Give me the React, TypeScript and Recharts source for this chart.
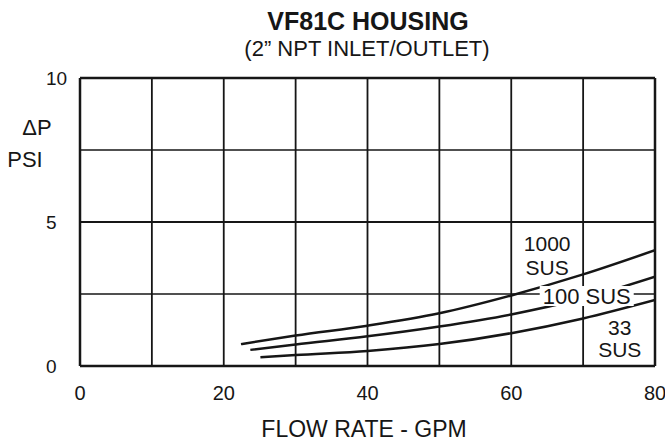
import React from 'react';
import { LineChart, Line, XAxis, YAxis, ReferenceLine, ReferenceDot } from 'recharts';

const gpm1000 = [22.4, 30, 40, 50, 60, 70, 80];
const psi1000 = [0.76, 1.06, 1.4, 1.83, 2.45, 3.18, 4.02];
const gpm100 = [23.7, 30, 40, 50, 60, 70, 80];
const psi100 = [0.56, 0.75, 1.03, 1.37, 1.79, 2.35, 3.1];
const gpm33 = [25.1, 30, 40, 50, 60, 70, 80];
const psi33 = [0.3, 0.38, 0.52, 0.76, 1.14, 1.65, 2.29];

const xTicks = [0, 20, 40, 60, 80];
const yTicks = [0, 5, 10];
const xGrid = [10, 20, 30, 40, 50, 60, 70];
const yGridMinor = [2.5, 7.5];

const title = 'VF81C HOUSING';
const subtitle = '(2\u201D NPT INLET/OUTLET)';
const xTitle = 'FLOW RATE - GPM';
const yTitle = ['\u0394P', 'PSI'];

const toData = (xs: number[], ys: number[]) => xs.map((x, i) => ({ gpm: x, psi: ys[i] }));
const data1000 = toData(gpm1000, psi1000);
const data100 = toData(gpm100, psi100);
const data33 = toData(gpm33, psi33);

const FONT = '"Liberation Sans", Arial, Helvetica, sans-serif';
const INK = '#161616';

const TwoLine = (lines: string[], gap: number) => (props: any) => {
  const { cx, cy } = props;
  return (
    <g>
      {lines.map((t, i) => (
        <text
          key={i}
          x={cx}
          y={cy + (i - (lines.length - 1) / 2) * gap}
          dy="0.36em"
          textAnchor="middle"
          fontSize={21}
          fontFamily={FONT}
          fill={INK}
        >
          {t}
        </text>
      ))}
    </g>
  );
};

const BoxedLabel = (label: string) => (props: any) => {
  const { cx, cy } = props;
  return (
    <g>
      <rect x={cx - 47} y={cy - 10} width={94} height={20} fill="#fff" />
      <text x={cx} y={cy} dy="0.36em" textAnchor="middle" fontSize={22} fontFamily={FONT} fill={INK}>
        {label}
      </text>
    </g>
  );
};

const YTick = (props: any) => {
  const { x, y, payload } = props;
  return (
    <text x={x - 26} y={y} dy="0.36em" textAnchor="start" fontSize={19} fontFamily={FONT} fill={INK}>
      {payload.value}
    </text>
  );
};

export default function App() {
  return (
    <div style={{ position: 'absolute', left: 0, top: 0, background: '#fff' }}>
      <LineChart
        width={665}
        height={443}
        margin={{ top: 78, right: 10, bottom: 0, left: 0 }}
      >
        <XAxis
          dataKey="gpm"
          type="number"
          domain={[0, 80]}
          ticks={xTicks}
          allowDataOverflow
          height={77}
          tickLine={false}
          tickMargin={14}
          axisLine={{ stroke: INK, strokeWidth: 2.5 }}
          tick={{ fontSize: 20, fontFamily: FONT, fill: INK }}
        />
        <YAxis
          dataKey="psi"
          type="number"
          domain={[0, 10]}
          ticks={yTicks}
          allowDataOverflow
          width={80}
          tickLine={false}
          tickMargin={2}
          axisLine={{ stroke: INK, strokeWidth: 2.5 }}
          tick={<YTick />}
        />
        {xGrid.map((v) => (
          <ReferenceLine key={'x' + v} x={v} stroke={INK} strokeWidth={1.8} />
        ))}
        {yGridMinor.map((v) => (
          <ReferenceLine key={'y' + v} y={v} stroke={INK} strokeWidth={1.5} />
        ))}
        <ReferenceLine y={5} stroke={INK} strokeWidth={2} />
        <ReferenceLine y={10} stroke={INK} strokeWidth={2.5} />
        <ReferenceLine x={80} stroke={INK} strokeWidth={2.5} />

        <Line data={data1000} dataKey="psi" type="monotone" stroke={INK} strokeWidth={2.5} dot={false} isAnimationActive={false} />
        <Line data={data100} dataKey="psi" type="monotone" stroke={INK} strokeWidth={2.5} dot={false} isAnimationActive={false} />
        <Line data={data33} dataKey="psi" type="monotone" stroke={INK} strokeWidth={2.5} dot={false} isAnimationActive={false} />

        <ReferenceDot x={65} y={3.85} r={0} shape={TwoLine(['1000', 'SUS'], 24)} />
        <ReferenceDot x={70.5} y={2.43} r={0} shape={BoxedLabel('100 SUS')} />
        <ReferenceDot x={75.1} y={0.94} r={0} shape={TwoLine(['33', 'SUS'], 22)} />

        <text x={368} y={30} textAnchor="middle" fontSize={25} fontWeight="bold" fontFamily={FONT} fill={INK}>
          {title}
        </text>
        <text x={367} y={56} textAnchor="middle" fontSize={22} fontFamily={FONT} fill={INK}>
          {subtitle}
        </text>
        <text x={364} y={437} textAnchor="middle" fontSize={23} fontFamily={FONT} fill={INK}>
          {xTitle}
        </text>
        <text x={37} y={127} dy="0.36em" textAnchor="middle" fontSize={22} fontFamily={FONT} fill={INK}>
          {yTitle[0]}
        </text>
        <text x={25} y={159} dy="0.36em" textAnchor="middle" fontSize={22} fontFamily={FONT} fill={INK}>
          {yTitle[1]}
        </text>
      </LineChart>
    </div>
  );
}
